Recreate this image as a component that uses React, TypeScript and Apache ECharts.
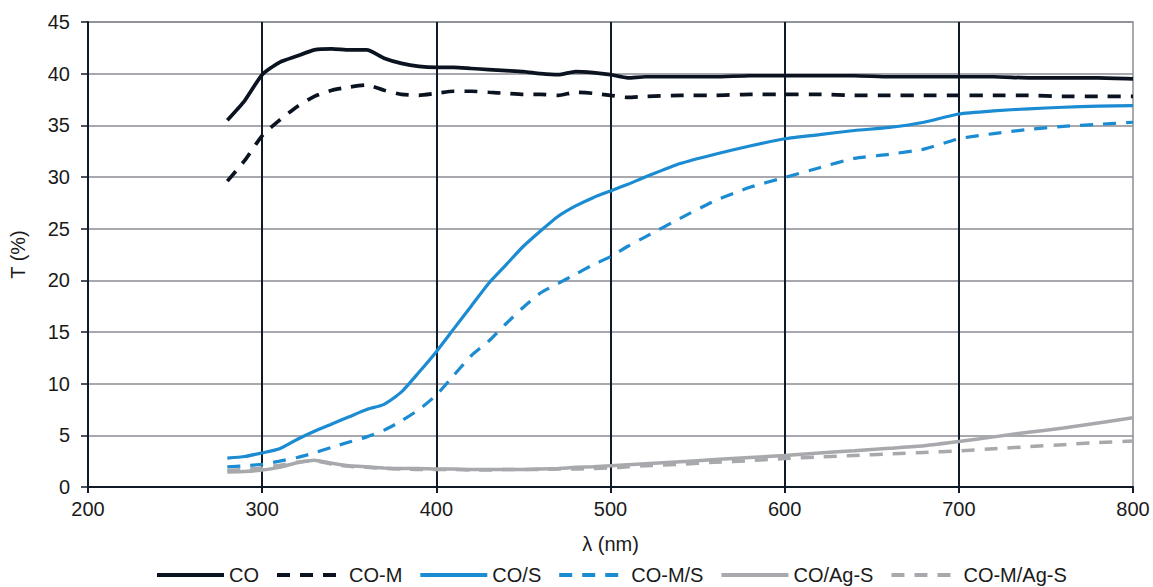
import React, { useEffect, useRef } from "react";
import * as echarts from "echarts";

const wavelengths = [
  280, 290, 300, 310, 320, 330, 340, 350, 360, 370, 380, 390, 400, 410, 420, 430, 440, 450, 460, 470, 480, 490, 500, 510, 520,
  540, 560, 580, 600, 620, 640, 660, 680, 700, 720, 740, 760, 780, 800,
];

const coValues = [
  35.5, 37.4, 39.9, 41.1, 41.7, 42.3, 42.4, 42.3, 42.3, 41.5, 41.0, 40.7, 40.6, 40.6, 40.5, 40.4, 40.3, 40.2, 40.0, 39.9, 40.2, 40.1, 39.9, 39.6, 39.7,
  39.7, 39.7, 39.8, 39.8, 39.8, 39.8, 39.7, 39.7, 39.7, 39.7, 39.6, 39.6, 39.6, 39.5,
];

const coMValues = [
  29.6, 31.6, 34.0, 35.5, 36.8, 37.8, 38.4, 38.7, 38.9, 38.4, 38.0, 37.9, 38.1, 38.3, 38.3, 38.2, 38.1, 38.0, 38.0, 37.9, 38.2, 38.1, 37.9, 37.7, 37.8,
  37.9, 37.9, 38.0, 38.0, 38.0, 37.9, 37.9, 37.9, 37.9, 37.9, 37.9, 37.8, 37.8, 37.8,
];

const coSValues = [
  2.8, 2.95, 3.3, 3.7, 4.6, 5.4, 6.1, 6.8, 7.5, 8.0, 9.2, 11.1, 13.1, 15.3, 17.5, 19.7, 21.5, 23.3, 24.8, 26.2, 27.2, 28.0, 28.65, 29.3, 30.0,
  31.3, 32.2, 33.0, 33.7, 34.1, 34.5, 34.8, 35.3, 36.1, 36.4, 36.6, 36.75, 36.85, 36.9,
];

const coMSValues = [
  1.95, 2.05, 2.2, 2.5, 2.85, 3.3, 3.85, 4.35, 4.85, 5.5, 6.4, 7.5, 8.9, 10.8, 12.7, 14.1, 15.8, 17.4, 18.8, 19.7, 20.6, 21.5, 22.3, 23.3, 24.2,
  26.0, 27.7, 29.0, 29.95, 30.9, 31.8, 32.2, 32.7, 33.7, 34.2, 34.6, 34.9, 35.1, 35.3,
];

const coAgSValues = [
  1.45, 1.5, 1.65, 1.9, 2.35, 2.6, 2.3, 2.05, 1.95, 1.85, 1.8, 1.8, 1.75, 1.75, 1.7, 1.7, 1.7, 1.7, 1.75, 1.8, 1.9, 1.95, 2.05, 2.15, 2.25,
  2.45, 2.65, 2.85, 3.05, 3.3, 3.5, 3.75, 4.0, 4.4, 4.85, 5.3, 5.7, 6.2, 6.7,
];

const coMAgSValues = [
  1.6, 1.7, 1.85, 2.1, 2.4, 2.55, 2.2, 2.0, 1.9, 1.8, 1.75, 1.7, 1.7, 1.7, 1.65, 1.65, 1.7, 1.7, 1.7, 1.75, 1.75, 1.8, 1.85, 1.95, 2.05,
  2.2, 2.4, 2.55, 2.75, 2.9, 3.05, 3.2, 3.35, 3.5, 3.7, 3.9, 4.1, 4.3, 4.45,
];

const seriesNames = ["CO", "CO-M", "CO/S", "CO-M/S", "CO/Ag-S", "CO-M/Ag-S"];

const BLACK = "#0b1220";
const BLUE = "#1b8bd2";
const GRAY = "#a7a9ac";
const FONT = "'Liberation Sans', Arial, sans-serif";

export default function App() {
  const ref = useRef<HTMLDivElement>(null);

  useEffect(() => {
    if (!ref.current) return;
    const chart = echarts.init(ref.current, null, { renderer: "svg" });
    const toPairs = (vals: number[]) => wavelengths.map((w, i) => [w, vals[i]]);
    const defs = [
      { vals: coValues, color: BLACK, type: "solid", width: 3.7 },
      { vals: coMValues, color: BLACK, type: [13, 10], width: 3.7 },
      { vals: coSValues, color: BLUE, type: "solid", width: 3.2 },
      { vals: coMSValues, color: BLUE, type: [13, 10], width: 3.2 },
      { vals: coAgSValues, color: GRAY, type: "solid", width: 3.5 },
      { vals: coMAgSValues, color: GRAY, type: [13, 10], width: 3.5 },
    ];
    chart.setOption({
      animation: false,
      backgroundColor: "#ffffff",
      textStyle: { fontFamily: FONT },
      grid: {
        left: 87,
        right: 20,
        top: 22,
        bottom: 100,
        show: true,
        borderColor: "#8a8d94",
        borderWidth: 1.5,
      },
      legend: {
        left: 155,
        top: 565,
        itemWidth: 67,
        itemHeight: 4,
        itemGap: 16,
        padding: 0,
        textStyle: { fontSize: 20, color: "#1a1a1a", fontFamily: FONT, lineHeight: 20 },
        itemStyle: { opacity: 0 },
        lineStyle: { width: 4 },
        data: seriesNames,
      },
      xAxis: {
        type: "value",
        min: 200,
        max: 800,
        interval: 100,
        name: "λ (nm)",
        nameLocation: "middle",
        nameGap: 47,
        nameTextStyle: { fontSize: 20, color: "#1a1a1a", fontFamily: FONT },
        axisLine: { show: true, lineStyle: { color: "#111a28", width: 2 } },
        axisTick: { show: true, length: 6, lineStyle: { color: "#111a28", width: 2 } },
        axisLabel: { fontSize: 20, color: "#1a1a1a", margin: 12, fontFamily: FONT },
        splitLine: {
          show: true,
          showMinLine: false,
          showMaxLine: false,
          lineStyle: { color: "#111a28", width: 2 },
        },
      },
      yAxis: {
        type: "value",
        min: 0,
        max: 45,
        interval: 5,
        name: "T (%)",
        nameLocation: "middle",
        nameGap: 60,
        nameTextStyle: { fontSize: 20, color: "#1a1a1a", fontFamily: FONT },
        axisLine: { show: true, lineStyle: { color: "#111a28", width: 2 } },
        axisTick: { show: true, length: 7, lineStyle: { color: "#111a28", width: 1.5 } },
        axisLabel: { fontSize: 20, color: "#1a1a1a", margin: 18, fontFamily: FONT },
        splitLine: {
          show: true,
          showMinLine: false,
          lineStyle: { color: "#8a8d94", width: 1.5 },
        },
      },
      series: defs.map((d, i) => ({
        name: seriesNames[i],
        type: "line",
        data: toPairs(d.vals),
        symbol: "none",
        showSymbol: false,
        smooth: 0.2,
        lineStyle: { color: d.color, width: d.width, type: d.type },
        itemStyle: { color: d.color },
      })),
    });
    return () => chart.dispose();
  }, []);

  return (
    <div
      ref={ref}
      style={{ position: "fixed", left: 0, top: 0, width: 1153, height: 587, background: "#fff" }}
    />
  );
}
